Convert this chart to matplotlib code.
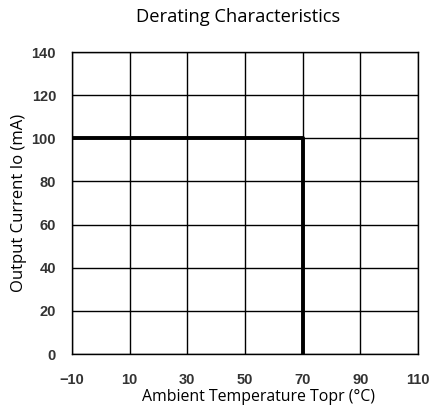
import numpy as np
import matplotlib
matplotlib.use("Agg")
import matplotlib.pyplot as plt

# derating curve
temp = [-10, 70, 70]
current = [100, 100, 0]
xticks = [-10, 10, 30, 50, 70, 90, 110]
yticks = [0, 20, 40, 60, 80, 100, 120, 140]

W, H = 432, 413
fig = plt.figure(figsize=(4.32, 4.13), dpi=100)
ax = fig.add_axes([72/W, 1-354/H, (418-72)/W, (354-52)/H])

ax.plot(temp, current, color='black', lw=2.8, solid_capstyle='butt', zorder=3)
ax.set_xlim(-10, 110); ax.set_ylim(0, 140)
ax.set_xticks(xticks); ax.set_yticks(yticks)
ax.grid(True, color='black', lw=1.0)
for s in ax.spines.values():
    s.set_linewidth(1.0)
ax.tick_params(axis='x', length=0, pad=13.5)
ax.tick_params(axis='y', length=0, pad=11.5)
ax.tick_params(labelsize=10.5, labelcolor='#333333')
for t in ax.get_xticklabels() + ax.get_yticklabels():
    t.set_family('Liberation Sans'); t.set_weight('bold')

fig.text(238/W, 1-17/H, "Derating Characteristics", ha='center', va='center',
         family='Open Sans', fontsize=13.2)
fig.text(259/W, 1-397/H, "Ambient Temperature Topr (°C)", ha='center', va='center',
         family='Open Sans', fontsize=11.4)
fig.text(19/W, 1-203/H, "Output Current Io (mA)", ha='center', va='center',
         rotation=90, family='Open Sans', fontsize=12)

fig.savefig("out.png", dpi=100)
